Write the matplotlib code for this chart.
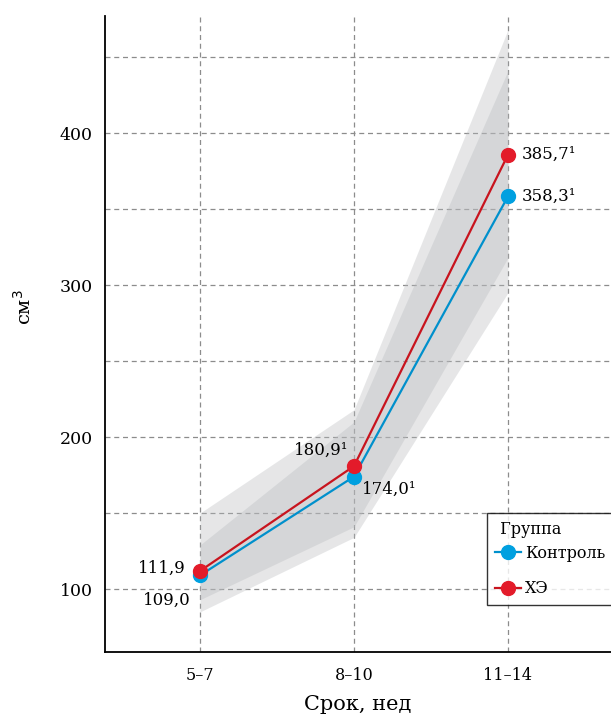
import matplotlib.pyplot as plt
from matplotlib.lines import Line2D

plt.rcParams['font.family'] = ['DejaVu Serif']

# data
periods = ['5–7', '8–10', '11–14']
control = [109.0, 174.0, 358.3]
he = [111.9, 180.9, 385.7]
control_labels = ['109,0', '174,0¹', '358,3¹']
he_labels = ['111,9', '180,9¹', '385,7¹']
# ribbon ranges
control_lo = [85, 134, 295]
control_hi = [129, 210, 441]
he_lo = [93, 141, 318]
he_hi = [150, 218, 468]

blue = '#00a0e0'
blue_line = '#0090cc'
red = '#e31b2a'
red_line = '#c8141e'

fig = plt.figure(figsize=(6.11, 7.14), dpi=100)
ax = fig.add_axes([105 / 611, 1 - 652 / 714, 1 - 105 / 611, (652 - 16) / 714])

x = list(range(len(periods)))

# bands (overlap gets darker)
ax.fill_between(x, control_lo, control_hi, color='#b8babd', alpha=0.35, lw=0, zorder=1)
ax.fill_between(x, he_lo, he_hi, color='#b8babd', alpha=0.35, lw=0, zorder=1)

# grid
for yv in range(100, 451, 50):
    ax.axhline(yv, color='#8c8c8c', ls=(0, (4, 3)), lw=0.9, zorder=0.5)
for xv in x:
    ax.axvline(xv, color='#8c8c8c', ls=(0, (4, 3)), lw=0.9, zorder=0.5)

ax.plot(x, control, color=blue_line, lw=1.6, zorder=3)
ax.plot(x, he, color=red_line, lw=1.6, zorder=3)
ax.plot(x, control, 'o', color=blue, ms=10, zorder=4)
ax.plot(x, he, 'o', color=red, ms=10, zorder=5)

fs = 12
# value labels
ax.annotate(he_labels[0], (0, he[0]), xytext=(-10, 2), textcoords='offset points',
            ha='right', va='center', fontsize=fs)
ax.annotate(control_labels[0], (0, control[0]), xytext=(-7, -18), textcoords='offset points',
            ha='right', va='center', fontsize=fs)
ax.annotate(he_labels[1], (1, he[1]), xytext=(-4, 11), textcoords='offset points',
            ha='right', va='center', fontsize=fs)
ax.annotate(control_labels[1], (1, control[1]), xytext=(6, -9), textcoords='offset points',
            ha='left', va='center', fontsize=fs)
ax.annotate(he_labels[2], (2, he[2]), xytext=(10, 0), textcoords='offset points',
            ha='left', va='center', fontsize=fs)
ax.annotate(control_labels[2], (2, control[2]), xytext=(10, 0), textcoords='offset points',
            ha='left', va='center', fontsize=fs)

ax.set_xlim(-0.617, 2.669)
ax.set_ylim(58.6, 477)
ax.set_xticks(x)
ax.set_xticklabels(periods, fontsize=11.5)
ax.set_yticks([100, 200, 300, 400])
ax.set_yticklabels(['100', '200', '300', '400'], fontsize=12.5)
ax.tick_params(axis='x', length=0, pad=11)
ax.tick_params(axis='y', length=0, pad=9)

ax.spines['top'].set_visible(False)
ax.spines['right'].set_visible(False)
ax.spines['left'].set_linewidth(1.3)
ax.spines['bottom'].set_linewidth(1.3)

fig.text(358 / 611, 1 - 705 / 714, 'Срок, нед', fontsize=15, ha='center', va='center')
fig.text(24 / 611, 1 - 307 / 714, 'см$^3$', fontsize=14, ha='center', va='center', rotation=90)

handles = [
    Line2D([], [], color=blue_line, lw=1.6, marker='o', ms=10, mfc=blue, mec=blue),
    Line2D([], [], color=red_line, lw=1.6, marker='o', ms=10, mfc=red, mec=red),
]
leg = fig.legend(handles, ['Контроль', 'ХЭ'], title=' Группа', loc='upper left',
                 bbox_to_anchor=(487 / 611, 1 - 513 / 714), fontsize=11.5, title_fontsize=11.5,
                 frameon=True, fancybox=False, handlelength=1.6, handletextpad=0.3,
                 labelspacing=1.15, borderaxespad=0, borderpad=0.5)
leg._legend_box.align = 'left'
leg._legend_box.sep = 5
leg.get_frame().set_edgecolor('black')
leg.get_frame().set_linewidth(1.0)

fig.savefig('out.png', dpi=100)
